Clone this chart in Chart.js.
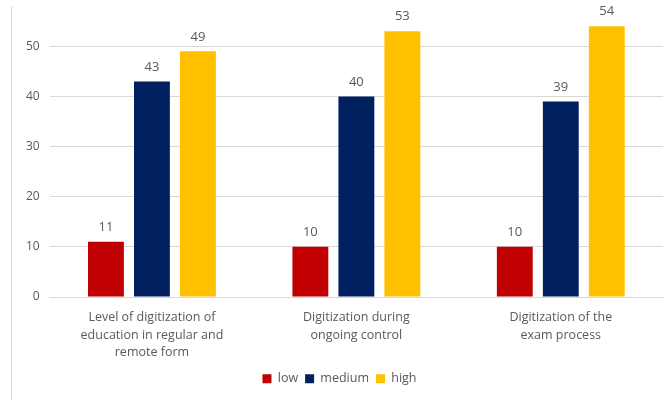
<!DOCTYPE html>
<html>
<head>
<meta charset="utf-8">
<script src="https://cdn.jsdelivr.net/npm/chart.js@4/dist/chart.umd.min.js"></script>
<style>
  html, body { margin: 0; padding: 0; background: #fff; }
  #wrap { position: relative; width: 668px; height: 400px; }
  #frame { position: absolute; left: 11px; top: 6px; bottom: 0; border-left: 1px solid #d9d9d9; }
  #c { position: absolute; left: 0; top: 0; }
</style>
</head>
<body>
<div id="wrap">
  <div id="frame"></div>
  <canvas id="c" width="668" height="400"></canvas>
</div>
<script>
// Kategorien und Werte
const categories = [
  ['Level of digitization of', 'education in regular and', 'remote form'],
  ['Digitization during', 'ongoing control'],
  ['Digitization of the', 'exam process']
];
const lowValues = [11, 10, 10];
const mediumValues = [43, 40, 39];
const highValues = [49, 53, 54];
const yTicks = [0, 10, 20, 30, 40, 50];

const textColor = '#595959';
const fontFamily = '"Open Sans", "Noto Sans", sans-serif';

// Werte über den Balken zeichnen
const valueLabels = {
  id: 'valueLabels',
  afterDatasetsDraw(chart) {
    const ctx = chart.ctx;
    ctx.save();
    ctx.fillStyle = textColor;
    ctx.font = '13px ' + fontFamily;
    ctx.textAlign = 'center';
    ctx.textBaseline = 'bottom';
    chart.data.datasets.forEach((ds, i) => {
      chart.getDatasetMeta(i).data.forEach((bar, j) => {
        ctx.fillText(ds.data[j], bar.x, bar.y - 8);
      });
    });
    ctx.restore();
  }
};

new Chart(document.getElementById('c'), {
  type: 'bar',
  data: {
    labels: categories,
    datasets: [
      { label: 'low', data: lowValues, backgroundColor: '#c00000' },
      { label: 'medium', data: mediumValues, backgroundColor: '#002060' },
      { label: 'high', data: highValues, backgroundColor: '#ffc000' }
    ]
  },
  options: {
    responsive: false,
    animation: false,
    layout: { padding: { left: 16, right: 5, top: 0, bottom: 5 } },
    datasets: {
      bar: { categoryPercentage: 0.675, barPercentage: 0.78 }
    },
    scales: {
      x: {
        grid: { display: false },
        border: { color: '#d9d9d9' },
        ticks: { color: textColor, font: { family: fontFamily, size: 12.5, lineHeight: 1.4 }, maxRotation: 0, padding: 4 }
      },
      y: {
        min: 0,
        max: 55.8,
        afterBuildTicks: (scale) => { scale.ticks = yTicks.map(v => ({ value: v })); },
        grid: { color: '#d9d9d9', drawTicks: false },
        border: { display: false },
        ticks: { color: textColor, font: { family: fontFamily, size: 12 }, padding: 10 }
      }
    },
    plugins: {
      legend: {
        position: 'bottom',
        labels: { color: textColor, font: { family: fontFamily, size: 12.5 }, boxWidth: 9, boxHeight: 9, padding: 7 }
      },
      tooltip: { enabled: false }
    }
  },
  plugins: [valueLabels]
});
</script>
</body>
</html>
